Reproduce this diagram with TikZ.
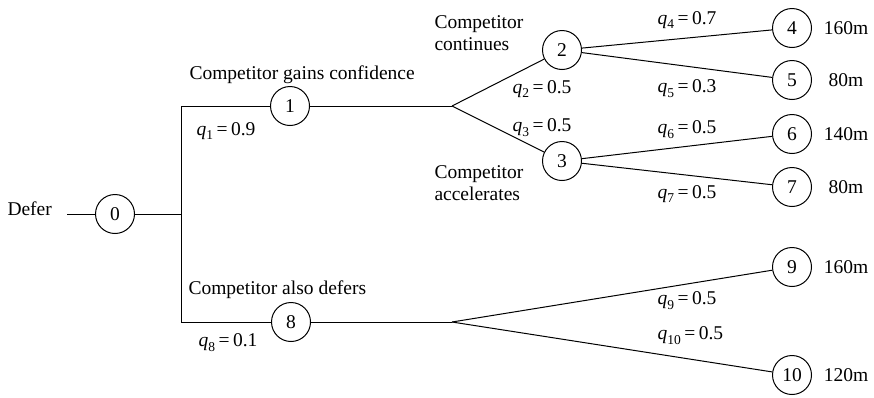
\documentclass[tikz,border=0pt]{standalone}
\usepackage{fontspec}
\setmainfont{Liberation Serif}
\newcommand{\fsz}{\fontsize{19.5}{22}\selectfont}
\newcommand{\qlab}[2]{\textit{q}\raisebox{-0.55ex}{\fontsize{13.5}{14}\selectfont #1}\hspace{0.18em}=\hspace{0.18em}#2}
\begin{document}
\begin{tikzpicture}[x=1pt,y=-1pt,line width=1.0pt,
  state/.style={circle,draw,minimum size=39pt,inner sep=0pt,font=\fsz},
  lbl/.style={inner sep=0pt,font=\fsz,anchor=west,align=left},
  val/.style={inner sep=0pt,font=\fsz,anchor=center}]
\useasboundingbox (0,0) rectangle (874,397);
% nodes
\node[lbl] (tdefer) at (7,209) {Defer};
\coordinate (s0) at (67,214);
\node[state] (n0) at (115,214) {0};
\coordinate (j0) at (181,214);
\coordinate (jt) at (181,106);
\coordinate (jb) at (181,322);
\node[state] (n1) at (290,106) {1};
\coordinate (b1) at (452,106);
\node[state] (n2) at (562,50) {2};
\node[state] (n3) at (562,161) {3};
\node[state] (n4) at (792,28) {4};
\node[state] (n5) at (792,80) {5};
\node[state] (n6) at (792,134) {6};
\node[state] (n7) at (792,187) {7};
\node[state] (n8) at (291,322) {8};
\coordinate (b8) at (452,322);
\node[state] (n9) at (792,267) {9};
\node[state] (n10) at (792,375) {10};
% connectors
\draw (s0) -- (n0) -- (j0);
\draw (jt) -- (jb);
\draw (jt) -- (n1) -- (b1);
\draw (b1) -- (n2);
\draw (b1) -- (n3);
\draw (n2) -- (n4);
\draw (n2) -- (n5);
\draw (n3) -- (n6);
\draw (n3) -- (n7);
\draw (jb) -- (n8) -- (b8);
\draw (b8) -- (n9);
\draw (b8) -- (n10);
% labels
\node[lbl] (tgain) at (189,75) {Competitor gains confidence};
\node[lbl] (tq1) at (196,131) {\qlab{1}{0.9}};
\node[lbl] (tcont) at (434,33) {Competitor\\continues};
\node[lbl] (tacc) at (434,183) {Competitor\\accelerates};
\node[lbl] (tq2) at (512,89) {\qlab{2}{0.5}};
\node[lbl] (tq3) at (512,128) {\qlab{3}{0.5}};
\node[lbl] (tq4) at (657,20) {\qlab{4}{0.7}};
\node[lbl] (tq5) at (657,89) {\qlab{5}{0.3}};
\node[lbl] (tq6) at (657,130) {\qlab{6}{0.5}};
\node[lbl] (tq7) at (657,194) {\qlab{7}{0.5}};
\node[lbl] (tdef) at (188,290) {Competitor also defers};
\node[lbl] (tq8) at (198,343) {\qlab{8}{0.1}};
\node[lbl] (tq9) at (657,301) {\qlab{9}{0.5}};
\node[lbl] (tq10) at (657,336) {\qlab{10}{0.5}};
\node[val] (v4) at (846,28) {160m};
\node[val] (v5) at (846,80) {80m};
\node[val] (v6) at (846,134) {140m};
\node[val] (v7) at (846,187) {80m};
\node[val] (v9) at (846,267) {160m};
\node[val] (v10) at (846,375) {120m};
\end{tikzpicture}
\end{document}
